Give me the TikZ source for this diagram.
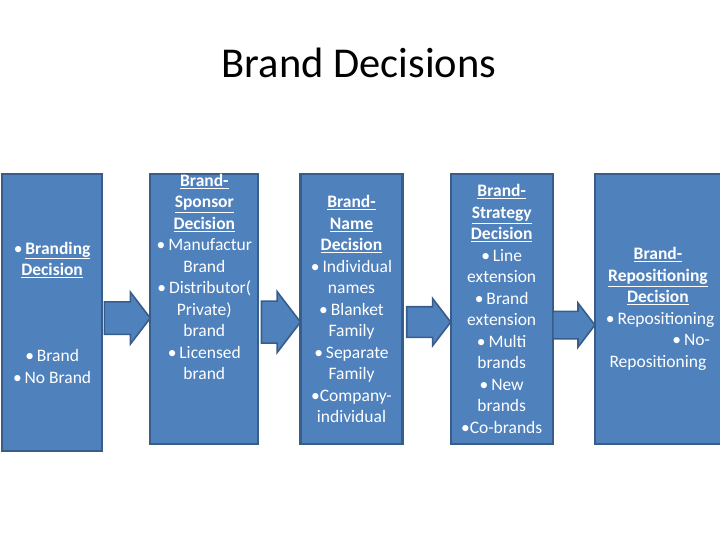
\documentclass[tikz,border=0pt]{standalone}
\usepackage{fontspec}
\setmainfont{Carlito}
\usepackage{xcolor}
\definecolor{boxblue}{RGB}{79,129,189}
\definecolor{boxedge}{RGB}{56,93,138}
\usetikzlibrary{positioning, shapes.arrows, calc}

\begin{document}
\begin{tikzpicture}[
  x=1pt, y=-1pt,
  decision/.style={rectangle, draw=boxedge, fill=boxblue, line width=2.2pt, inner sep=0pt, outer sep=0pt, minimum width=102pt, minimum height=270pt},
  boxtext/.style={text=white, align=center, inner sep=0pt, font=\fontsize{17.5}{21.5}\selectfont},
  bigarrow/.style={single arrow, draw=boxedge, fill=boxblue, line width=1.6pt, inner xsep=0pt, outer sep=0pt, anchor=tip, single arrow tip angle=105}
]
\useasboundingbox (0,0) rectangle (720,540);
% Title
\node[font=\fontsize{42.5}{50}\selectfont, anchor=base] (title) at (359,78) {Brand Decisions};
% Boxes
\node[decision, minimum width=100pt, minimum height=277pt, anchor=north west] (b1) at (2.1,174.1) {};
\node[decision, minimum width=108pt, right=48.2pt of b1.north east, anchor=north west] (b2) {};
\node[decision, right=42.2pt of b2.north east, anchor=north west] (b3) {};
\node[decision, right=48.2pt of b3.north east, anchor=north west] (b4) {};
\node[decision, minimum width=126pt, right=42.2pt of b4.north east, anchor=north west] (b5) {};
% Texts
\node[boxtext] (t1) at (b1.center) {\textbullet\,\textbf{\underline{Branding}}\\ \textbf{\underline{Decision}}\\ ~\\ ~\\ ~\\ \textbullet\,Brand\\ \textbullet\,No Brand};
\node[boxtext] (t2) at ($(b2.center)+(0,-32)$) {\textbf{\underline{Brand-}}\\ \textbf{\underline{Sponsor}}\\ \textbf{\underline{Decision}}\\ \textbullet\,Manufactur\\ Brand\\ \textbullet\,Distributor(\\ Private)\\ brand\\ \textbullet\,Licensed\\ brand};
\node[boxtext] (t3) at (b3.center) {\textbf{\underline{Brand-}}\\ \textbf{\underline{Name}}\\ \textbf{\underline{Decision}}\\ \textbullet\,Individual\\ names\\ \textbullet\,Blanket\\ Family\\ \textbullet\,Separate\\ Family\\ \textbullet Company-\\ individual};
\node[boxtext] (t4) at (b4.center) {\textbf{\underline{Brand-}}\\ \textbf{\underline{Strategy}}\\ \textbf{\underline{Decision}}\\ \textbullet\,Line\\ extension\\ \textbullet\,Brand\\ extension\\ \textbullet\,Multi\\ brands\\ \textbullet\,New\\ brands\\ \textbullet Co-brands};
\node[boxtext, text width=104pt] (t5) at (b5.center) {\textbf{\underline{Brand-}}\\ \textbf{\underline{Repositioning}}\\ \textbf{\underline{Decision}}\\ \textbullet\,Repositioning\\ \makebox[\linewidth][r]{\textbullet\,No-}\\ Repositioning};
% Arrows
\node[bigarrow, minimum height=46pt, minimum width=52pt, inner ysep=11pt] (a1) at ($(b2.west)+(0,9)$) {};
\node[bigarrow, minimum height=39pt, minimum width=61pt, inner ysep=15pt] (a2) at ($(b3.west)+(0,13)$) {};
\node[bigarrow, minimum height=44pt, minimum width=47pt, inner ysep=12.5pt] (a3) at ($(b4.west)+(0,13)$) {};
\node[bigarrow, minimum height=42pt, minimum width=44pt, inner ysep=11pt] (a4) at ($(b5.west)+(0,16)$) {};
\end{tikzpicture}
\end{document}
